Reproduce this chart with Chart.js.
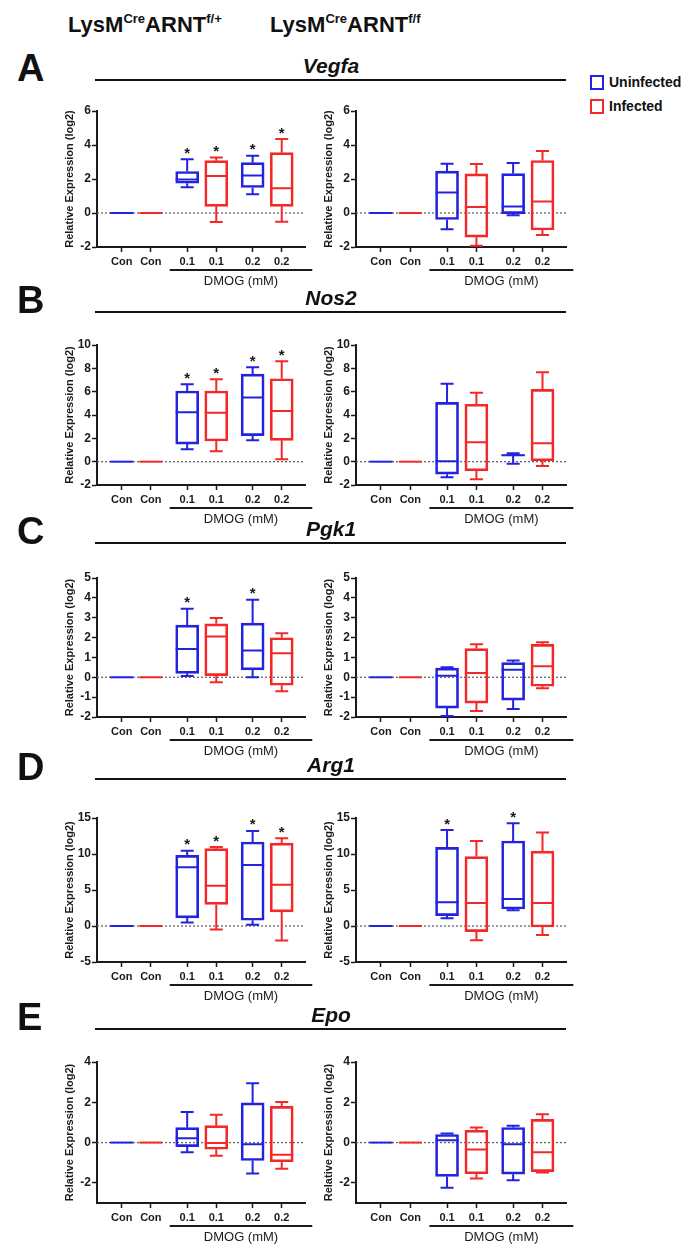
<!DOCTYPE html>
<html>
<head>
<meta charset="utf-8">
<script src="https://cdn.jsdelivr.net/npm/chart.js@4.4.1/dist/chart.umd.min.js"></script>
<style>
  body { margin: 0; background: #fff; font-family: 'Liberation Sans', Arial, sans-serif; color: #111; }
  #page { position: relative; width: 696px; height: 1253px; overflow: hidden; }
  .hdr { position: absolute; font-weight: bold; font-size: 22px; line-height: 1; white-space: nowrap; }
  .hdr sup { font-size: 13px; vertical-align: 0; position: relative; top: -9px; }
  .letter { position: absolute; font-weight: bold; font-size: 38px; line-height: 1; }
  .gene { position: absolute; font-weight: bold; font-style: italic; font-size: 21px; line-height: 1; transform: translateX(-50%); }
  .rule { position: absolute; height: 2px; background: #111; }
  .key { position: absolute; width: 10px; height: 11px; border: 2px solid; }
  .keytxt { position: absolute; font-weight: bold; font-size: 14px; line-height: 1; }
  .plot { position: absolute; }
</style>
</head>
<body>
<div id="page">
  <div class="hdr" style="left:68px; top:14px">LysM<sup>Cre</sup>ARNT<sup>f/+</sup></div>
  <div class="hdr" style="left:270px; top:14px">LysM<sup>Cre</sup>ARNT<sup>f/f</sup></div>

  <div class="key" style="left:590px; top:75px; border-color:#2222e0"></div>
  <div class="keytxt" style="left:609px; top:75px">Uninfected</div>
  <div class="key" style="left:590px; top:99px; border-color:#f42828"></div>
  <div class="keytxt" style="left:609px; top:99px">Infected</div>
</div>

<script>
// ---- data: [min, q1, median, q3, max] per box ----
const slotLabels = ['Con', 'Con', '0.1', '0.1', '0.2', '0.2'];
const slotGroups = ['Uninfected', 'Infected', 'Uninfected', 'Infected', 'Uninfected', 'Infected'];
const geneNames = ['Vegfa', 'Nos2', 'Pgk1', 'Arg1', 'Epo'];
const panelLetters = ['A', 'B', 'C', 'D', 'E'];

const zeroBox = [0, 0, 0, 0, 0];

const vegfaHet = [zeroBox, zeroBox, [1.52, 1.75, 1.97, 2.44, 3.16], [-0.53, 0.39, 2.18, 3.08, 3.26], [1.11, 1.5, 2.2, 2.96, 3.37], [-0.51, 0.39, 1.46, 3.55, 4.35]];
const vegfaKo = [zeroBox, zeroBox, [-0.96, -0.38, 1.21, 2.46, 2.9], [-1.92, -1.42, 0.35, 2.3, 2.88], [-0.13, -0.04, 0.38, 2.32, 2.94], [-1.29, -1.0, 0.67, 3.09, 3.65]];
const vegfaHetSig = [0, 0, 1, 1, 1, 1];
const vegfaKoSig = [0, 0, 0, 0, 0, 0];
const vegfaTicks = [-2, 0, 2, 4, 6];
const vegfaRange = [-2, 6];

const nos2Het = [zeroBox, zeroBox, [1.06, 1.51, 4.23, 6.06, 6.63], [0.89, 1.77, 4.2, 6.06, 7.06], [1.83, 2.23, 5.49, 7.51, 8.09], [0.2, 1.83, 4.34, 7.11, 8.6]];
const nos2Ko = [zeroBox, zeroBox, [-1.33, -1.07, 0.03, 5.08, 6.67], [-1.5, -0.79, 1.67, 4.92, 5.9], [-0.17, 0.52, 0.55, 0.58, 0.73], [-0.37, 0.08, 1.58, 6.19, 7.66]];
const nos2HetSig = [0, 0, 1, 1, 1, 1];
const nos2KoSig = [0, 0, 0, 0, 0, 0];
const nos2Ticks = [-2, 0, 2, 4, 6, 8, 10];
const nos2Range = [-2, 10];

const pgk1Het = [zeroBox, zeroBox, [0.07, 0.2, 1.43, 2.63, 3.45], [-0.25, 0.08, 2.05, 2.69, 2.98], [0.0, 0.37, 1.35, 2.73, 3.9], [-0.7, -0.4, 1.21, 1.99, 2.22]];
const pgk1Ko = [zeroBox, zeroBox, [-1.95, -1.55, 0.08, 0.46, 0.51], [-1.7, -1.3, 0.21, 1.44, 1.66], [-1.6, -1.15, 0.38, 0.74, 0.84], [-0.55, -0.45, 0.56, 1.66, 1.77]];
const pgk1HetSig = [0, 0, 1, 0, 1, 0];
const pgk1KoSig = [0, 0, 0, 0, 0, 0];
const pgk1Ticks = [-2, -1, 0, 1, 2, 3, 4, 5];
const pgk1Range = [-2, 5];

const arg1Het = [zeroBox, zeroBox, [0.47, 1.13, 8.15, 9.81, 10.46], [-0.47, 3.0, 5.59, 10.74, 10.97], [0.19, 0.8, 8.47, 11.67, 13.2], [-2.0, 1.97, 5.73, 11.5, 12.2]];
const arg1Ko = [zeroBox, zeroBox, [1.06, 1.44, 3.29, 10.93, 13.33], [-1.99, -0.79, 3.2, 9.63, 11.8], [2.18, 2.36, 3.75, 11.8, 14.26], [-1.25, -0.14, 3.2, 10.4, 13.0]];
const arg1HetSig = [0, 0, 1, 1, 1, 1];
const arg1KoSig = [0, 0, 1, 0, 1, 0];
const arg1Ticks = [-5, 0, 5, 10, 15];
const arg1Range = [-5, 15];

const epoHet = [zeroBox, zeroBox, [-0.48, -0.2, 0.21, 0.74, 1.52], [-0.66, -0.33, -0.02, 0.84, 1.38], [-1.54, -0.89, -0.08, 1.97, 2.95], [-1.3, -0.95, -0.61, 1.8, 2.02]];
const epoKo = [zeroBox, zeroBox, [-2.24, -1.68, 0.11, 0.4, 0.45], [-1.78, -1.55, -0.35, 0.61, 0.75], [-1.87, -1.57, -0.08, 0.75, 0.83], [-1.49, -1.44, -0.48, 1.15, 1.41]];
const epoHetSig = [0, 0, 0, 0, 0, 0];
const epoKoSig = [0, 0, 0, 0, 0, 0];
const epoTicks = [-2, 0, 2, 4];
const epoRange = [-3, 4];

// ---- layout ----
const COLORS = { Uninfected: '#2222e0', Infected: '#f42828', ink: '#1a1a1a', zero: '#666' };
const slotX = [0.85, 1.85, 3.1, 4.1, 5.35, 6.35];   // x positions of the six boxes
const X_MAX = 7.15;
const rows = [
  { line: 80,   top: 111,  bottom: 247 },
  { line: 312,  top: 345,  bottom: 485 },
  { line: 543,  top: 578,  bottom: 717 },
  { line: 779,  top: 818,  bottom: 962 },
  { line: 1029, top: 1062, bottom: 1203 }
];
const cols = [{ left: 97, right: 305 }, { left: 356, right: 566 }];
const PAD_L = 63, AXIS_W = 34, PAD_T = 22, PAD_R = 22, AXIS_H = 46;

const panels = [
  { het: vegfaHet, ko: vegfaKo, hetSig: vegfaHetSig, koSig: vegfaKoSig, ticks: vegfaTicks, range: vegfaRange },
  { het: nos2Het, ko: nos2Ko, hetSig: nos2HetSig, koSig: nos2KoSig, ticks: nos2Ticks, range: nos2Range },
  { het: pgk1Het, ko: pgk1Ko, hetSig: pgk1HetSig, koSig: pgk1KoSig, ticks: pgk1Ticks, range: pgk1Range },
  { het: arg1Het, ko: arg1Ko, hetSig: arg1HetSig, koSig: arg1KoSig, ticks: arg1Ticks, range: arg1Range },
  { het: epoHet, ko: epoKo, hetSig: epoHetSig, koSig: epoKoSig, ticks: epoTicks, range: epoRange }
];

Chart.defaults.font.family = "'Liberation Sans', Arial, sans-serif";
Chart.defaults.color = COLORS.ink;

// whiskers, medians, stars, zero line and the DMOG bracket
const boxPlugin = {
  id: 'boxWhiskers',
  beforeDatasetsDraw(chart) {
    const { ctx, chartArea: a, scales: { y } } = chart;
    const y0 = y.getPixelForValue(0);
    ctx.save();
    ctx.strokeStyle = COLORS.zero;
    ctx.lineWidth = 1.3;
    ctx.setLineDash([2, 2]);
    ctx.beginPath();
    ctx.moveTo(a.left, y0);
    ctx.lineTo(a.right, y0);
    ctx.stroke();
    ctx.restore();
  },
  afterDatasetsDraw(chart) {
    const ds = chart.data.datasets[0];
    const meta = chart.getDatasetMeta(0);
    const { ctx, scales: { y } } = chart;
    ctx.save();
    ctx.setLineDash([]);
    ctx.lineWidth = 2;
    meta.data.forEach((bar, i) => {
      const [lo, q1, med, q3, hi] = ds.stats[i];
      const half = bar.width / 2, cap = 6.5;
      const px = v => y.getPixelForValue(v);
      ctx.strokeStyle = ds.borderColor[i];
      ctx.beginPath();
      // median
      ctx.moveTo(bar.x - half, px(med));
      ctx.lineTo(bar.x + half, px(med));
      // upper whisker
      if (hi > q3) {
        ctx.moveTo(bar.x, px(q3));
        ctx.lineTo(bar.x, px(hi));
        ctx.moveTo(bar.x - cap, px(hi));
        ctx.lineTo(bar.x + cap, px(hi));
      }
      // lower whisker
      if (lo < q1) {
        ctx.moveTo(bar.x, px(q1));
        ctx.lineTo(bar.x, px(lo));
        ctx.moveTo(bar.x - cap, px(lo));
        ctx.lineTo(bar.x + cap, px(lo));
      }
      ctx.stroke();
      if (ds.sig[i]) {
        ctx.fillStyle = COLORS.ink;
        ctx.font = "bold 15px 'Liberation Sans', Arial, sans-serif";
        ctx.textAlign = 'center';
        ctx.textBaseline = 'alphabetic';
        ctx.fillText('*', bar.x, px(hi) - 1.5);
      }
    });
    ctx.restore();
  },
  afterDraw(chart) {
    const { ctx, chartArea: a, scales: { x } } = chart;
    const x1 = x.getPixelForValue(2.5), x2 = x.getPixelForValue(7.4);
    ctx.save();
    ctx.strokeStyle = COLORS.ink;
    ctx.lineWidth = 2;
    ctx.beginPath();
    ctx.moveTo(x1, a.bottom + 23);
    ctx.lineTo(x2, a.bottom + 23);
    ctx.stroke();
    ctx.fillStyle = COLORS.ink;
    ctx.font = "13px 'Liberation Sans', Arial, sans-serif";
    ctx.textAlign = 'center';
    ctx.textBaseline = 'middle';
    ctx.fillText('DMOG (mM)', (x1 + x2) / 2, a.bottom + 34);
    ctx.restore();
  }
};

const page = document.getElementById('page');

function addText(cls, text, style) {
  const d = document.createElement('div');
  d.className = cls;
  d.textContent = text;
  Object.assign(d.style, style);
  page.appendChild(d);
}

function makeChart(col, row, stats, sig, ticks, range) {
  const w = PAD_L + AXIS_W + (col.right - col.left) + PAD_R;
  const h = PAD_T + (row.bottom - row.top) + AXIS_H;
  const wrap = document.createElement('div');
  wrap.className = 'plot';
  Object.assign(wrap.style, {
    left: (col.left - PAD_L - AXIS_W) + 'px',
    top: (row.top - PAD_T) + 'px',
    width: w + 'px',
    height: h + 'px'
  });
  const canvas = document.createElement('canvas');
  wrap.appendChild(canvas);
  page.appendChild(wrap);

  const colors = slotGroups.map(g => COLORS[g]);

  new Chart(canvas, {
    type: 'bar',
    data: {
      datasets: [{
        data: stats.map((b, i) => ({ x: slotX[i], y: [b[1], b[3]] })),
        stats: stats,
        sig: sig,
        backgroundColor: 'rgba(0,0,0,0)',
        borderColor: colors,
        borderWidth: 2,
        borderSkipped: false,
        barThickness: 23
      }]
    },
    options: {
      responsive: true,
      maintainAspectRatio: false,
      animation: false,
      events: [],
      layout: { padding: { left: PAD_L, top: PAD_T, right: PAD_R, bottom: 0 } },
      plugins: { legend: { display: false }, tooltip: { enabled: false } },
      scales: {
        x: {
          type: 'linear',
          min: 0,
          max: X_MAX,
          offset: false,
          afterBuildTicks: s => { s.ticks = slotX.map(v => ({ value: v })); },
          afterFit: s => { s.height = AXIS_H; },
          grid: { offset: false, drawOnChartArea: false, drawTicks: true, tickLength: 5, tickWidth: 1.5, tickColor: COLORS.ink },
          border: { display: true, color: COLORS.ink, width: 2 },
          ticks: {
            autoSkip: false,
            maxRotation: 0,
            padding: 3,
            font: { size: 11, weight: 'bold' },
            color: COLORS.ink,
            callback: (v, i) => slotLabels[i]
          }
        },
        y: {
          min: range[0],
          max: range[1],
          afterBuildTicks: s => { s.ticks = ticks.map(v => ({ value: v })); },
          afterFit: s => { s.width = AXIS_W; },
          grid: { drawOnChartArea: false, drawTicks: true, tickLength: 5, tickWidth: 1.5, tickColor: COLORS.ink },
          border: { display: true, color: COLORS.ink, width: 2 },
          ticks: { padding: 1, font: { size: 12, weight: 'bold' }, color: COLORS.ink },
          title: {
            display: true,
            text: 'Relative Expression (log2)',
            padding: 0,
            font: { size: 11, weight: 'bold' },
            color: COLORS.ink
          }
        }
      }
    },
    plugins: [boxPlugin]
  });
}

panels.forEach((p, r) => {
  const row = rows[r];
  // panel letter, gene name and rule
  addText('letter', panelLetters[r], { left: '17px', top: (row.line - 31) + 'px' });
  addText('gene', geneNames[r], { left: '331px', top: (row.line - 25) + 'px' });
  const rule = document.createElement('div');
  rule.className = 'rule';
  Object.assign(rule.style, { left: '95px', width: '471px', top: (row.line - 1) + 'px' });
  page.appendChild(rule);

  makeChart(cols[0], row, p.het, p.hetSig, p.ticks, p.range);
  makeChart(cols[1], row, p.ko, p.koSig, p.ticks, p.range);
});
</script>
</body>
</html>
